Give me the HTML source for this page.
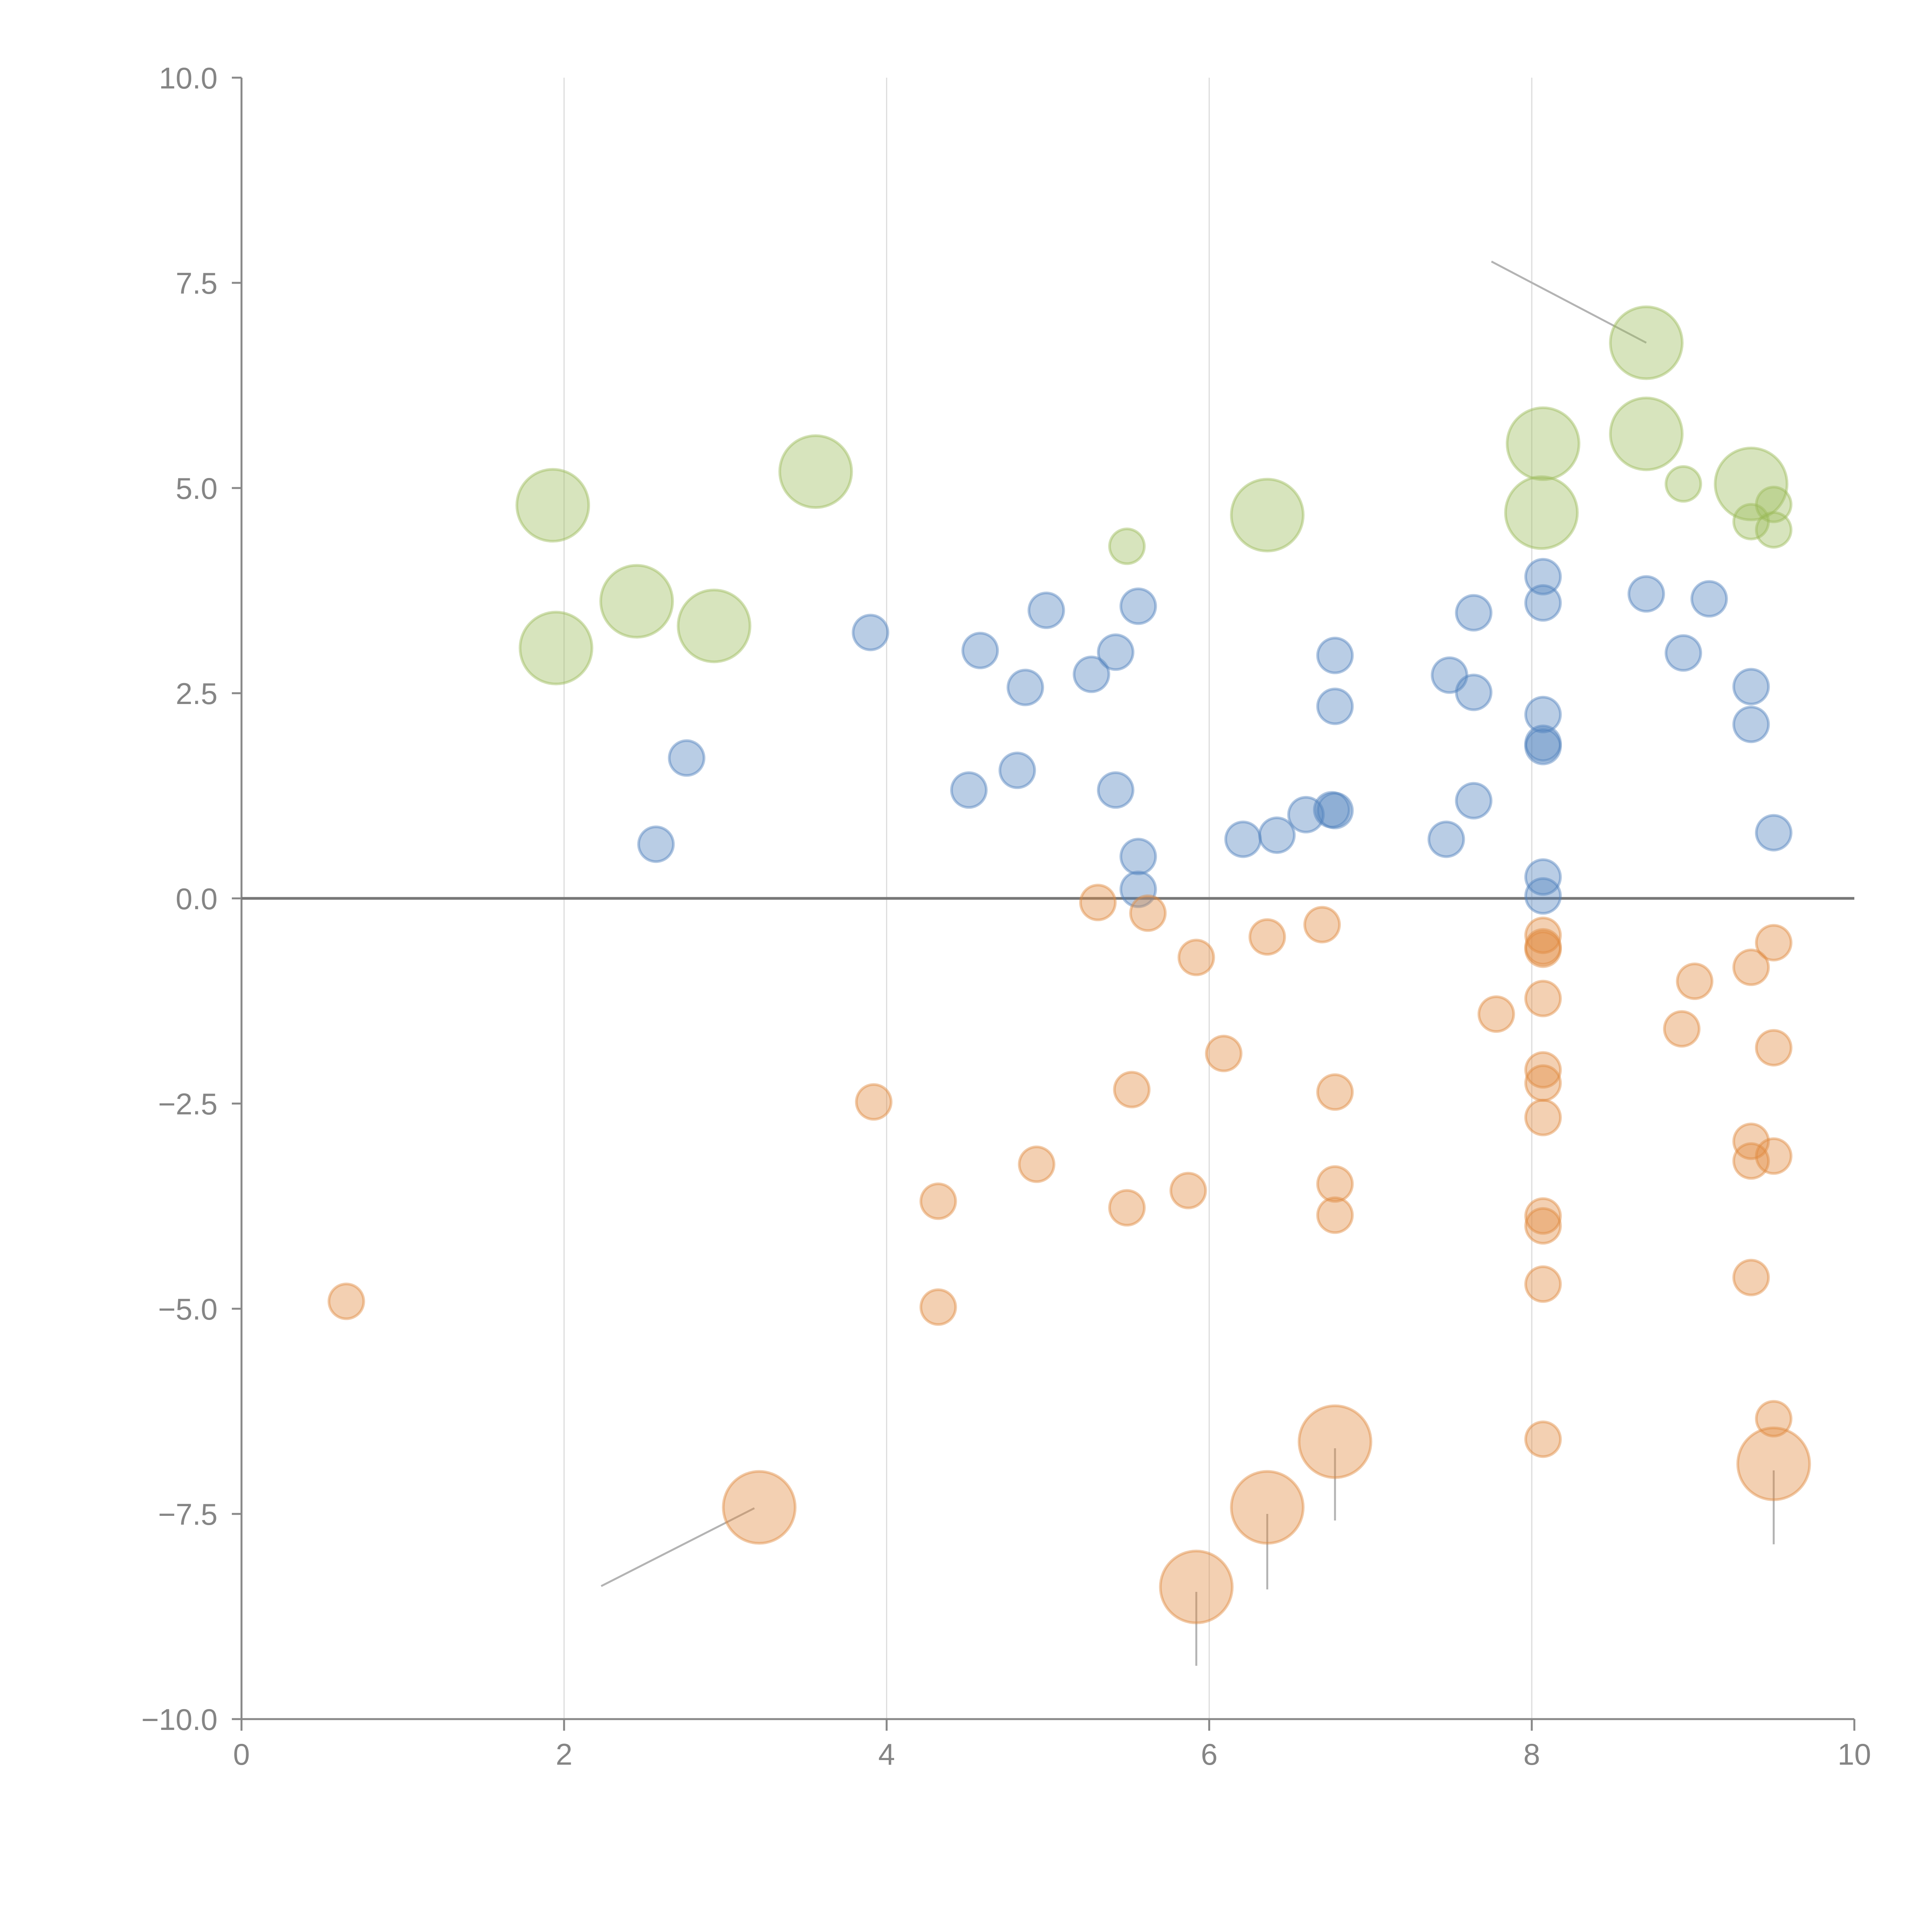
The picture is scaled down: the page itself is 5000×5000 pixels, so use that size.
<!DOCTYPE html>
<html><head><meta charset="utf-8"><style>
html,body{margin:0;padding:0;background:#fff}
svg{display:block;font-family:"Liberation Sans",Arial,sans-serif}
</style></head><body>
<svg id="chart" width="5000" height="5000" viewBox="0 0 5000 5000" xmlns="http://www.w3.org/2000/svg">
<rect width="5000" height="5000" fill="#fff"/>
<g id="grid"></g>
<g id="axes"></g>
<g id="annot"></g>
<g id="marks"></g>
</svg>
<script>
const blueX=[2.57,2.76,3.90,4.51,4.58,4.81,4.86,4.99,5.27,5.42,5.42,5.56,5.56,5.56,6.21,6.42,6.60,6.76,6.78,6.78,6.78,7.47,7.49,7.64,7.64,7.64,8.07,8.07,8.07,8.07,8.07,8.07,8.07,8.71,8.94,9.10,9.36,9.36,9.50];
const blueY=[0.66,1.71,3.24,1.32,3.02,1.56,2.57,3.51,2.73,1.32,3.00,3.56,0.51,0.11,0.72,0.77,1.02,1.08,1.07,2.34,2.96,0.72,2.72,3.48,2.51,1.19,3.92,3.60,2.24,1.89,1.85,0.26,0.03,3.71,2.99,3.65,2.58,2.12,0.80];
const blueS=blueX.map(()=>1);
const orangeX=[0.65,3.92,4.32,4.32,4.93,5.31,5.49,5.52,5.62,5.87,5.92,6.09,6.36,6.70,6.78,6.78,6.78,7.78,8.07,8.07,8.07,8.07,8.07,8.07,8.07,8.07,8.07,8.07,8.07,8.93,9.01,9.36,9.36,9.36,9.36,9.50,9.50,9.50,9.50,3.21,5.92,6.36,6.78,9.50];
const orangeY=[-4.91,-2.48,-4.98,-3.69,-3.24,-0.05,-3.77,-2.33,-0.18,-3.56,-0.72,-1.89,-0.47,-0.32,-2.36,-3.48,-3.86,-1.41,-0.45,-0.59,-0.62,-1.22,-2.09,-2.25,-2.67,-3.87,-3.99,-4.70,-6.59,-1.59,-1.01,-0.84,-2.96,-3.20,-4.62,-0.54,-1.82,-3.14,-6.34,-7.42,-8.39,-7.42,-6.62,-6.89];
const orangeS=[1,1,1,1,1,1,1,1,1,1,1,1,1,1,1,1,1,1,1,1,1,1,1,1,1,1,1,1,1,1,1,1,1,1,1,1,1,1,1,2,2,2,2,2];
const greenX=[1.93,1.95,2.45,2.93,3.56,6.36,8.07,8.06,8.71,8.71,9.36,5.49,8.94,9.36,9.50,9.50];
const greenY=[4.79,3.05,3.62,3.32,5.20,4.67,5.54,4.70,6.77,5.66,5.05,4.29,5.05,4.59,4.80,4.49];
const greenS=[2,2,2,2,2,2,2,2,2,2,2,1,1,1,1,1];
const xTicks=[0,2,4,6,8,10];
const yTicks=[-10,-7.5,-5,-2.5,0,2.5,5,7.5,10];
const annX1=[8.71,3.18,5.92,6.36,6.78,9.50];
const annY1=[6.77,-7.43,-8.45,-7.50,-6.70,-6.97];
const annX2=[7.75,2.23,5.92,6.36,6.78,9.50];
const annY2=[7.76,-8.38,-9.35,-8.42,-7.58,-7.87];

const X0=625,X1=4799,Y0=4449,Y1=201;
const xs=v=>X0+(v-0)/(10-0)*(X1-X0);
const ys=v=>Y0-(v+10)/20*(Y0-Y1);
const rs=s=>s===2?93:45;
const NS="http://www.w3.org/2000/svg";
function mk(tag,attrs,parent){const e=document.createElementNS(NS,tag);for(const k in attrs)e.setAttribute(k,attrs[k]);parent.appendChild(e);return e;}
const grid=document.getElementById('grid'),axes=document.getElementById('axes'),annot=document.getElementById('annot'),marks=document.getElementById('marks');

xTicks.forEach(t=>{
  if(t>0&&t<10){
    const g=mk('line',{x1:xs(t),x2:xs(t),y1:Y1,y2:Y0,stroke:'#dcdcdc','stroke-width':3},grid);
    
    
  }
  const tk=mk('line',{x1:xs(t),x2:xs(t),y1:Y0,y2:Y0+30,stroke:'#888','stroke-width':5},axes);
  
  
  const tx=mk('text',{x:xs(t),y:Y0+118,'text-anchor':'middle','font-size':78,fill:'#858585'},axes);
  tx.textContent=String(t);
  
  
});
yTicks.forEach(t=>{
  const tk=mk('line',{x1:X0-25,x2:X0,y1:ys(t),y2:ys(t),stroke:'#888','stroke-width':5},axes);
  
  
  const tx=mk('text',{x:X0-62,y:ys(t)+28,'text-anchor':'end','font-size':78,fill:'#858585'},axes);
  tx.textContent=(t<0?'\u2212':'')+Math.abs(t).toFixed(1);
  
  
});
let a=mk('line',{x1:X0,x2:X0,y1:Y1,y2:Y0,stroke:'#888','stroke-width':5},axes);


a=mk('line',{x1:X0,x2:X1,y1:Y0,y2:Y0,stroke:'#888','stroke-width':5},axes);


a=mk('line',{x1:X0,x2:X1,y1:ys(0),y2:ys(0),stroke:'#777','stroke-width':7},axes);



annX1.forEach((v,i)=>{
  const l=mk('line',{x1:xs(v),y1:ys(annY1[i]),x2:xs(annX2[i]),y2:ys(annY2[i]),stroke:'#b3b3b3','stroke-width':5},annot);
  
  
});

function series(X,Y,S,color,name){
  X.forEach((v,i)=>{
    const c=mk('circle',{cx:xs(v),cy:ys(Y[i]),r:rs(S[i]),fill:color,'fill-opacity':0.4,stroke:color,'stroke-opacity':0.45,'stroke-width':7},marks);
    
    
  });
}
series(greenX,greenY,greenS,'#9bbb59','bubble-green');
series(blueX,blueY,blueS,'#4f81bd','bubble-blue');
series(orangeX,orangeY,orangeS,'#e0893f','bubble-orange');
</script>
</body></html>
